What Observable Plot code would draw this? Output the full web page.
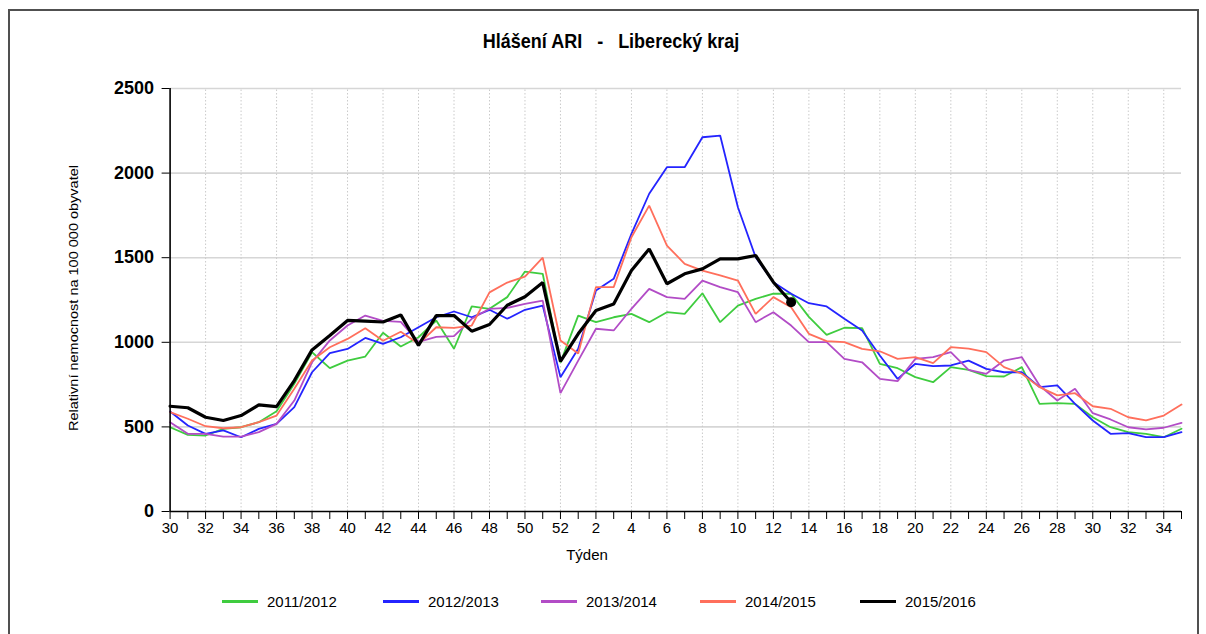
<!DOCTYPE html>
<html><head><meta charset="utf-8">
<script src="https://cdn.jsdelivr.net/npm/d3@7"></script>
<script src="https://cdn.jsdelivr.net/npm/@observablehq/plot@0.6"></script>
<style>
body{margin:0;background:#fff;width:1206px;height:634px;overflow:hidden;position:relative;font-family:"Liberation Sans",Arial,sans-serif;color:#000;}
#frame{position:absolute;left:8px;top:9px;width:1191px;height:700px;border:2px solid #505050;box-sizing:border-box;}
#title{position:absolute;top:31px;left:0;width:1222px;text-align:center;font-weight:bold;font-size:18px;white-space:pre;transform:scaleY(1.15);}
#chart{position:absolute;left:0;top:0;}
#ylabel{position:absolute;left:73px;top:298px;transform:translate(-50%,-50%) rotate(-90deg) scaleY(0.92);white-space:nowrap;font-size:14.5px;}
#xlabel{position:absolute;left:587px;top:546px;transform:translateX(-50%);font-size:15px;}
.leg{position:absolute;top:593px;display:flex;align-items:center;font-size:15px;white-space:nowrap;}
.leg span.sw{display:inline-block;width:36px;height:3px;margin-right:9px;}
</style>
</head><body>
<div id="frame"></div>
<div id="title">Hlášení ARI   -   Liberecký kraj</div>
<div id="chart"></div>
<div id="ylabel">Relativní nemocnost na 100 000 obyvatel</div>
<div id="xlabel">Týden</div>
<div id="legend"></div>
<script>
const weeks = [30,31,32,33,34,35,36,37,38,39,40,41,42,43,44,45,46,47,48,49,50,51,52,
  1,2,3,4,5,6,7,8,9,10,11,12,13,14,15,16,17,18,19,20,21,22,23,24,25,26,27,28,29,30,31,32,33,34,35];
const seasons = ["2011/2012","2012/2013","2013/2014","2014/2015","2015/2016"];
const colors = ["#3fcc3f","#2424ff","#b24cc6","#ff6f5c","#000000"];
const s2011 = [498,453,449,488,498,528,593,755,941,847,892,916,1056,975,1030,1129,962,1212,1198,1267,1418,1405,880,
  1158,1119,1148,1168,1119,1178,1168,1290,1119,1217,1257,1287,1287,1150,1044,1086,1084,873,847,794,764,853,837,800,798,853,636,640,636,557,498,469,459,439,489];
const s2012 = [591,508,459,479,439,488,518,617,823,936,961,1026,991,1030,1089,1148,1182,1148,1192,1139,1192,1217,794,
  962,1306,1375,1641,1878,2035,2035,2212,2222,1798,1503,1355,1287,1231,1212,1139,1070,922,784,873,859,863,892,843,823,823,735,745,636,538,459,463,439,439,469];
const s2013 = [528,459,459,443,443,469,518,656,882,1011,1099,1158,1127,1121,1003,1032,1036,1139,1198,1203,1227,1246,700,
  892,1080,1070,1198,1316,1267,1257,1365,1326,1296,1119,1178,1099,1001,1001,902,882,784,770,902,912,942,837,814,892,912,745,656,725,581,544,498,485,495,524];
const s2014 = [587,548,504,492,498,528,567,725,892,971,1020,1083,1009,1062,991,1089,1085,1099,1295,1353,1388,1500,1011,
  934,1326,1326,1621,1808,1572,1464,1424,1395,1365,1168,1267,1207,1050,1007,1001,961,947,902,912,877,971,963,942,853,814,735,686,699,622,607,557,538,567,632];
const s2015 = [622,613,557,538,567,630,620,774,955,1040,1129,1125,1120,1162,982,1158,1158,1066,1105,1219,1269,1353,887,
  1050,1188,1227,1424,1552,1346,1405,1434,1493,1493,1513,1355,1237];
const series = [s2011,s2012,s2013,s2014,s2015];
const yTicks = [0,500,1000,1500,2000,2500];

const idx = weeks.map((w,i)=>i);
const evenIdx = idx.filter(i => weeks[i] % 2 === 0 && i > 0);
const lineMarks = series.map((vals,k) => Plot.line(vals.map((v,i)=>({i, v})), {
  x:"i", y:"v", stroke: colors[k], strokeWidth: k===4 ? 3.2 : 1.8, strokeLinejoin:"miter"
}));
const last = s2015.length - 1;

const chart = Plot.plot({
  width:1206, height:560,
  marginLeft:169.6, marginRight:25, marginTop:88, marginBottom:49,
  x:{domain:[0, weeks.length-1]},
  y:{domain:[0,2500]},
  style:{fontFamily:'"Liberation Sans", Arial, sans-serif', color:"#000", background:"transparent"},
  marks:[
    Plot.ruleY(yTicks.filter(d=>d>0), {stroke:"#d6d6d6", strokeWidth:1.6}),
    Plot.ruleX(evenIdx, {y1:0, y2:2500, stroke:"#cacaca", strokeWidth:1, strokeDasharray:"1.5,2"}),
    ...lineMarks,
    Plot.dot([{i:last, v:s2015[last]}], {x:"i", y:"v", r:5, fill:"#000"}),
    Plot.ruleX([0], {stroke:"#000", strokeWidth:1.6}),
    Plot.ruleY([0], {stroke:"#000", strokeWidth:1.6}),
    Plot.axisY({ticks:yTicks, tickSize:8, tickPadding:8, fontSize:18, fontWeight:"bold", label:null, tickFormat:d=>String(d), stroke:"#000"}),
    Plot.axisX({ticks:idx, tickSize:8, tickPadding:3, fontSize:15, label:null, tickFormat:i => weeks[i] % 2 === 0 ? String(weeks[i]) : "", stroke:"#000"})
  ]
});
document.getElementById("chart").appendChild(chart);

const legLefts = [222, 383, 541, 700, 860];
const leg = document.getElementById("legend");
seasons.forEach((s,k)=>{
  const d = document.createElement("div");
  d.className = "leg";
  d.style.left = legLefts[k] + "px";
  d.innerHTML = `<span class="sw" style="background:${colors[k]}"></span><span>${s}</span>`;
  leg.appendChild(d);
});
</script>
</body></html>
